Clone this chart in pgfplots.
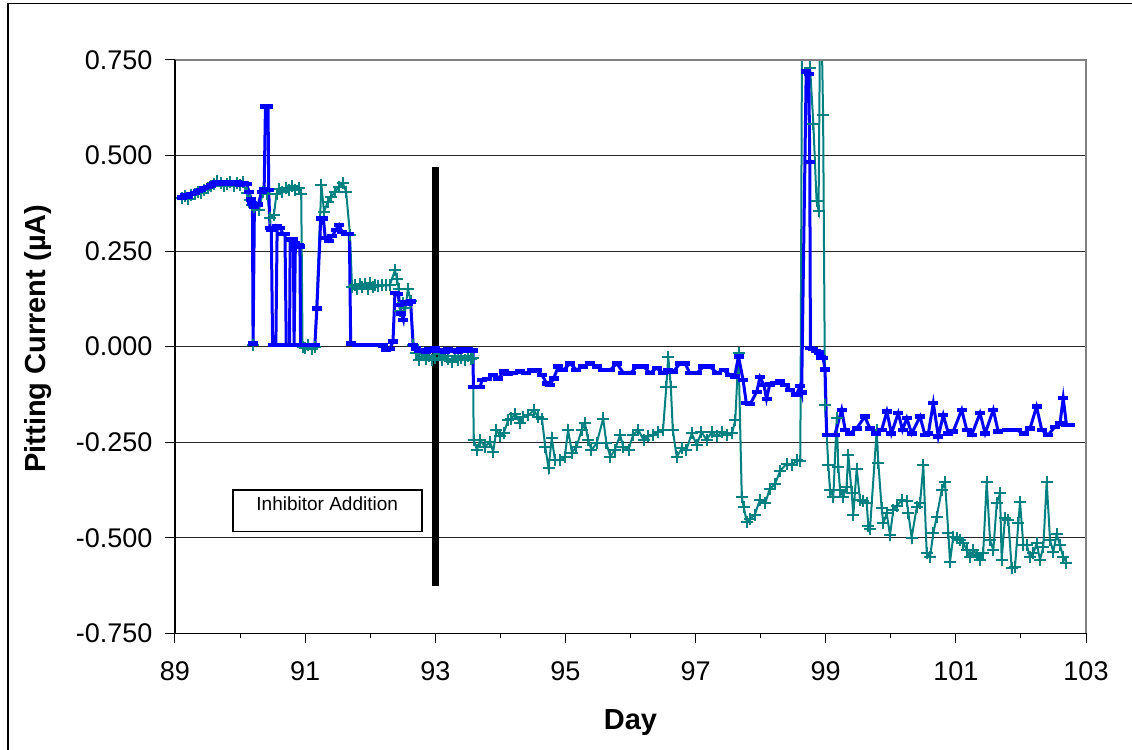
\documentclass[border=0pt]{standalone}
\usepackage{pgfplots}
\pgfplotsset{compat=1.18}
\usepackage{pgfplotstable}
\usepackage{fontspec}
\setmainfont{Liberation Sans}
\definecolor{pitblue}{RGB}{0,0,255}
\definecolor{pitteal}{RGB}{0,128,128}

% Pitting current, probe 1 (teal, + marks)
\pgfplotstableread{
day cur
89.10 0.388
89.15 0.393
89.20 0.386
89.25 0.396
89.30 0.399
89.35 0.404
89.40 0.401
89.45 0.411
89.50 0.414
89.55 0.421
89.60 0.426
89.65 0.433
89.70 0.427
89.75 0.421
89.80 0.426
89.85 0.431
89.90 0.420
89.95 0.428
90.00 0.424
90.05 0.430
90.10 0.401
90.15 0.383
90.19 0.370
90.20 0.005
90.22 0.365
90.29 0.357
90.35 0.405
90.42 0.400
90.46 0.336
90.52 0.345
90.56 0.400
90.60 0.412
90.65 0.405
90.70 0.416
90.75 0.410
90.80 0.420
90.85 0.410
90.90 0.416
90.94 0.400
90.96 0.000
91.00 -0.004
91.05 0.003
91.10 -0.006
91.15 0.000
91.25 0.423
91.29 0.353
91.35 0.379
91.40 0.392
91.46 0.405
91.52 0.418
91.58 0.427
91.63 0.405
91.69 0.292
91.72 0.157
91.76 0.162
91.80 0.150
91.84 0.165
91.88 0.155
91.92 0.163
91.96 0.152
92.00 0.166
92.04 0.156
92.08 0.162
92.12 0.158
92.18 0.160
92.25 0.160
92.30 0.160
92.38 0.200
92.41 0.178
92.44 0.150
92.46 0.092
92.50 0.114
92.54 0.100
92.58 0.152
92.62 0.120
92.66 0.004
92.70 -0.017
92.75 -0.035
92.80 -0.020
92.85 -0.032
92.90 -0.025
92.95 -0.036
93.00 -0.030
93.05 -0.020
93.10 -0.035
93.15 -0.025
93.20 -0.032
93.25 -0.040
93.30 -0.025
93.35 -0.036
93.40 -0.030
93.45 -0.035
93.50 -0.025
93.55 -0.032
93.58 -0.030
93.59 -0.244
93.64 -0.270
93.69 -0.244
93.76 -0.262
93.84 -0.250
93.89 -0.275
93.94 -0.218
94.00 -0.235
94.05 -0.227
94.12 -0.192
94.17 -0.188
94.23 -0.175
94.30 -0.200
94.35 -0.184
94.43 -0.180
94.51 -0.166
94.58 -0.184
94.64 -0.190
94.69 -0.262
94.74 -0.318
94.79 -0.240
94.84 -0.297
94.92 -0.297
94.99 -0.290
95.04 -0.218
95.10 -0.277
95.17 -0.262
95.25 -0.218
95.30 -0.200
95.35 -0.244
95.40 -0.270
95.48 -0.253
95.58 -0.188
95.63 -0.253
95.69 -0.288
95.76 -0.270
95.84 -0.231
95.89 -0.262
95.97 -0.270
96.04 -0.231
96.12 -0.218
96.20 -0.244
96.27 -0.235
96.35 -0.231
96.43 -0.223
96.50 -0.218
96.55 -0.105
96.58 -0.026
96.62 -0.105
96.65 -0.218
96.71 -0.288
96.79 -0.266
96.86 -0.270
96.94 -0.227
97.02 -0.257
97.09 -0.223
97.17 -0.244
97.25 -0.223
97.33 -0.235
97.40 -0.223
97.48 -0.231
97.56 -0.227
97.61 -0.192
97.66 -0.017
97.71 -0.393
97.74 -0.420
97.79 -0.460
97.84 -0.450
97.91 -0.440
97.99 -0.400
98.07 -0.410
98.14 -0.372
98.22 -0.360
98.30 -0.325
98.40 -0.306
98.48 -0.310
98.56 -0.297
98.61 -0.300
98.64 1.000
98.70 1.000
98.76 0.730
98.81 0.583
98.86 0.380
98.89 0.356
98.92 1.000
98.96 0.605
98.99 -0.153
99.04 -0.310
99.066 -0.375
99.117 -0.393
99.169 -0.187
99.194 -0.314
99.22 -0.375
99.27 -0.393
99.32 -0.366
99.347 -0.283
99.40 -0.384
99.424 -0.440
99.476 -0.319
99.527 -0.401
99.578 -0.405
99.63 -0.410
99.655 -0.470
99.68 -0.478
99.784 -0.218
99.809 -0.305
99.86 -0.423
99.885 -0.462
99.937 -0.436
99.988 -0.493
100.039 -0.427
100.09 -0.418
100.168 -0.401
100.245 -0.405
100.27 -0.435
100.32 -0.500
100.40 -0.419
100.45 -0.410
100.50 -0.310
100.552 -0.541
100.603 -0.550
100.654 -0.488
100.706 -0.445
100.783 -0.375
100.833 -0.353
100.885 -0.488
100.91 -0.563
100.96 -0.497
101.013 -0.501
101.064 -0.505
101.115 -0.514
101.167 -0.532
101.218 -0.550
101.27 -0.532
101.32 -0.545
101.371 -0.558
101.42 -0.540
101.474 -0.353
101.525 -0.506
101.576 -0.532
101.628 -0.410
101.679 -0.384
101.704 -0.558
101.755 -0.448
101.806 -0.453
101.858 -0.580
101.909 -0.576
101.96 -0.462
101.986 -0.406
102.037 -0.519
102.089 -0.519
102.14 -0.550
102.19 -0.541
102.243 -0.515
102.293 -0.558
102.344 -0.524
102.396 -0.353
102.447 -0.506
102.498 -0.537
102.55 -0.490
102.60 -0.520
102.65 -0.550
102.70 -0.565
}\tealdata

% Pitting current, probe 2 (blue, dash marks)
\pgfplotstableread{
day cur
89.10 0.390
89.15 0.395
89.20 0.392
89.25 0.400
89.30 0.402
89.35 0.408
89.40 0.410
89.45 0.415
89.50 0.418
89.55 0.422
89.60 0.428
89.65 0.430
89.70 0.425
89.75 0.428
89.80 0.430
89.85 0.425
89.90 0.428
89.95 0.430
90.00 0.424
90.05 0.428
90.10 0.425
90.14 0.405
90.17 0.385
90.19 0.375
90.20 0.008
90.22 0.365
90.28 0.372
90.33 0.405
90.37 0.412
90.39 0.628
90.43 0.628
90.44 0.410
90.46 0.310
90.48 0.305
90.50 0.005
90.55 0.005
90.57 0.315
90.62 0.310
90.66 0.295
90.69 0.295
90.71 0.005
90.76 0.005
90.77 0.280
90.82 0.280
90.83 0.005
90.85 0.270
90.90 0.265
90.92 0.262
90.93 0.005
91.00 0.005
91.07 0.005
91.15 0.005
91.18 0.100
91.24 0.335
91.28 0.335
91.31 0.284
91.36 0.276
91.42 0.290
91.47 0.305
91.52 0.318
91.57 0.300
91.63 0.295
91.68 0.295
91.70 0.008
91.80 0.005
91.95 0.005
92.10 0.005
92.20 0.003
92.25 -0.008
92.30 -0.006
92.35 0.013
92.38 0.140
92.43 0.138
92.45 0.109
92.48 0.087
92.51 0.070
92.54 0.115
92.58 0.112
92.62 0.118
92.66 0.005
92.70 -0.005
92.75 -0.012
92.80 -0.008
92.85 -0.014
92.90 -0.006
92.95 -0.010
93.00 -0.004
93.05 -0.012
93.10 -0.008
93.15 -0.014
93.20 -0.006
93.25 -0.012
93.30 -0.008
93.35 -0.014
93.40 -0.006
93.45 -0.010
93.50 -0.006
93.55 -0.012
93.58 -0.010
93.585 -0.105
93.69 -0.105
93.72 -0.087
93.80 -0.085
93.89 -0.074
93.97 -0.083
94.05 -0.065
94.12 -0.070
94.20 -0.069
94.30 -0.065
94.40 -0.069
94.48 -0.062
94.56 -0.061
94.64 -0.074
94.71 -0.096
94.76 -0.100
94.82 -0.083
94.89 -0.052
94.97 -0.061
95.07 -0.044
95.17 -0.061
95.27 -0.052
95.38 -0.044
95.48 -0.052
95.58 -0.061
95.69 -0.061
95.79 -0.044
95.89 -0.069
96.00 -0.069
96.10 -0.052
96.20 -0.052
96.30 -0.069
96.40 -0.056
96.50 -0.069
96.58 -0.061
96.66 -0.065
96.76 -0.044
96.84 -0.044
96.91 -0.069
97.02 -0.069
97.12 -0.052
97.22 -0.052
97.33 -0.069
97.43 -0.061
97.53 -0.074
97.60 -0.078
97.66 -0.026
97.73 -0.087
97.78 -0.148
97.84 -0.150
97.94 -0.118
97.99 -0.080
98.05 -0.100
98.09 -0.137
98.14 -0.099
98.22 -0.095
98.30 -0.090
98.38 -0.100
98.45 -0.113
98.55 -0.126
98.605 -0.103
98.63 -0.120
98.70 0.720
98.74 0.713
98.755 0.483
98.765 -0.003
98.80 -0.006
98.85 -0.012
98.90 -0.015
98.93 -0.028
98.96 -0.030
98.99 -0.060
99.015 -0.231
99.066 -0.231
99.14 -0.231
99.245 -0.165
99.30 -0.218
99.37 -0.227
99.475 -0.214
99.60 -0.183
99.68 -0.214
99.78 -0.227
99.86 -0.218
99.94 -0.170
100.01 -0.227
100.115 -0.174
100.18 -0.218
100.245 -0.187
100.32 -0.227
100.45 -0.183
100.525 -0.231
100.577 -0.227
100.654 -0.148
100.73 -0.235
100.807 -0.179
100.885 -0.227
100.96 -0.222
101.09 -0.165
101.167 -0.218
101.244 -0.231
101.371 -0.174
101.45 -0.227
101.576 -0.165
101.65 -0.222
101.78 -0.218
101.935 -0.218
102.04 -0.227
102.14 -0.214
102.24 -0.157
102.32 -0.218
102.42 -0.231
102.52 -0.210
102.60 -0.201
102.65 -0.135
102.70 -0.205
102.75 -0.205
}\bluedata

\begin{document}
\begin{tikzpicture}[x=1pt,y=1pt]
\useasboundingbox (0,0) rectangle (566,375);
% outer chart frame
\draw[black, line width=0.7pt] (4,-2) -- (4,373.3) -- (568,373.3);
\begin{axis}[
  at={(87.5pt,58.35pt)}, anchor=south west, scale only axis,
  width=455.5pt, height=286.65pt,
  xmin=89, xmax=103, ymin=-0.75, ymax=0.75,
  xtick={89,91,93,95,97,99,101,103},
  minor xtick={90,92,94,96,98,100,102},
  ytick={-0.75,-0.5,-0.25,0,0.25,0.5,0.75},
  tick pos=left, tick align=outside,
  major tick length=4.8pt, minor tick length=2.5pt,
  every tick/.style={black, line width=0.5pt},
  ymajorgrids, grid style={black!85, line width=0.5pt},
  axis line style={draw=none},
  /pgf/number format/assume math mode=true,
  ticklabel style={font=\fontsize{13.5}{16}\selectfont},
  yticklabel style={/pgf/number format/.cd, fixed, fixed zerofill, precision=3, /tikz/.cd, xshift=-3pt},
  xticklabel style={yshift=-6pt},
  label style={font=\bfseries\fontsize{14.5}{17}\selectfont},
  xlabel={Day},
  xlabel style={at={(axis description cs:0.5,-0.155)}, anchor=center},
  ylabel={Pitting Current (µA)},
  ylabel style={at={(axis description cs:-0.15,0.514)}, anchor=center},
]
\addplot[pitteal, line width=1pt, mark=+, mark size=3pt,
  mark options={line width=1pt, solid}] table[x=day, y=cur] {\tealdata};
\addplot[pitblue, line width=1.5pt, mark=-, mark size=2.5pt,
  mark options={line width=2.2pt, solid}] table[x=day, y=cur] {\bluedata};
% inhibitor addition marker
\addplot[black, line width=3.6pt, no markers] coordinates {(93,0.47) (93,-0.625)};
\end{axis}
% plot area border: black on the left and bottom, grey on top and right
\draw[gray, line width=0.9pt] (87.5,345) -- (543,345) -- (543,58.35);
\draw[black, line width=0.6pt] (87.5,345) -- (87.5,58.35) -- (543,58.35);
% annotation box
\draw[black, fill=white, line width=0.8pt] (116.35,109.15) rectangle (210.85,130);
\node[font=\fontsize{9.5}{11}\selectfont, inner sep=0pt] at (163.6,123.2) {Inhibitor Addition};
\end{tikzpicture}
\end{document}
